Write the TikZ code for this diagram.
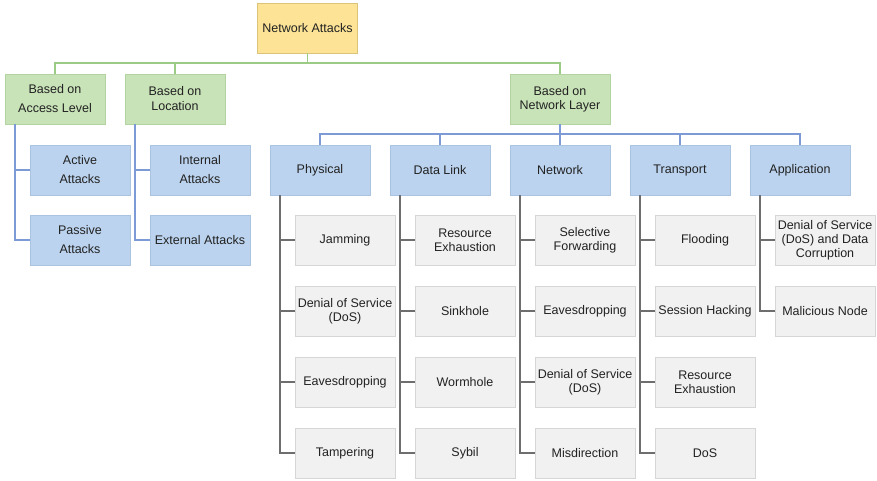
\documentclass[tikz,border=0pt]{standalone}
\usepackage{fontspec}
\setmainfont{Liberation Sans}
\definecolor{rootfill}{HTML}{FCE396}
\definecolor{rootdraw}{HTML}{DCC37A}
\definecolor{grpfill}{HTML}{C9E3B8}
\definecolor{grpdraw}{HTML}{B3D3A0}
\definecolor{grpline}{HTML}{9CCB86}
\definecolor{catfill}{HTML}{BBD3EE}
\definecolor{catdraw}{HTML}{A9C3E0}
\definecolor{catline}{HTML}{7B9AD6}
\definecolor{leaffill}{HTML}{F1F1F1}
\definecolor{leafdraw}{HTML}{D6D6D6}
\definecolor{leafline}{HTML}{6E6E6E}
\definecolor{txt}{HTML}{222222}
\tikzset{
  box/.style={minimum width=100pt, minimum height=50pt, inner sep=0pt,
    outer sep=0pt, line width=0.8pt, align=center, text=txt,
    font=\fontsize{12.5}{14}\selectfont},
  rootbox/.style={box, fill=rootfill, draw=rootdraw},
  grpbox/.style={box, fill=grpfill, draw=grpdraw},
  catbox/.style={box, fill=catfill, draw=catdraw},
  leafbox/.style={box, fill=leaffill, draw=leafdraw},
  wide/.style={font=\fontsize{12.5}{19}\selectfont},
  mid/.style={font=\fontsize{12.5}{15}\selectfont},
  gline/.style={draw=grpline, line width=1.3pt},
  bline/.style={draw=catline, line width=1.3pt},
  kline/.style={draw=leafline, line width=1.6pt},
}
\begin{document}
\begin{tikzpicture}[x=1pt, y=-1pt]
\useasboundingbox (0,0) rectangle (877,480);

% root
\node[rootbox] (root) at (307.5,28) {Network Attacks};

% grouping criteria
\node[grpbox, wide] (acc) at (55,99) {Based on\\Access Level};
\node[grpbox, mid] (loc) at (175,99) {Based on\\Location};
\node[grpbox] (nl) at (560,99) {Based on\\Network Layer};

% access level / location categories
\node[catbox, wide] (act) at (80,170) {Active\\Attacks};
\node[catbox, wide] (pas) at (80,240) {Passive\\Attacks};
\node[catbox, wide] (int) at (200,170) {Internal\\Attacks};
\node[catbox] (ext) at (200,240) {External Attacks};

% network layers
\node[catbox] (phy) at (320,170) {Physical};
\node[catbox] (dl)  at (440,170) {Data Link};
\node[catbox] (net) at (560,170) {Network};
\node[catbox] (tra) at (680,170) {Transport};
\node[catbox] (app) at (800,170) {Application};

% physical layer attacks
\node[leafbox] (p1) at (345,240) {Jamming};
\node[leafbox] (p2) at (345,311) {Denial of Service\\(DoS)};
\node[leafbox] (p3) at (345,382) {Eavesdropping};
\node[leafbox] (p4) at (345,453) {Tampering};

% data link layer attacks
\node[leafbox] (d1) at (465,240) {Resource\\Exhaustion};
\node[leafbox] (d2) at (465,311) {Sinkhole};
\node[leafbox] (d3) at (465,382) {Wormhole};
\node[leafbox] (d4) at (465,453) {Sybil};

% network layer attacks
\node[leafbox] (n1) at (585,240) {Selective\\Forwarding};
\node[leafbox] (n2) at (585,311) {Eavesdropping};
\node[leafbox] (n3) at (585,382) {Denial of Service\\(DoS)};
\node[leafbox] (n4) at (585,453) {Misdirection};

% transport layer attacks
\node[leafbox] (t1) at (705,240) {Flooding};
\node[leafbox] (t2) at (705,311) {Session Hacking};
\node[leafbox] (t3) at (705,382) {Resource\\Exhaustion};
\node[leafbox] (t4) at (705,453) {DoS};

% application layer attacks
\node[leafbox] (a1) at (825,240) {Denial of Service\\(DoS) and Data\\Corruption};
\node[leafbox] (a2) at (825,311) {Malicious Node};

% root to criteria
\foreach \c in {acc,loc,nl}
  \draw[gline] (root.south) -- ++(0,10) -| (\c.north);

% access level and location branches
\draw[bline] ([xshift=-40pt]acc.south) |- (pas.west);
\draw[bline] ([xshift=-40pt]acc.south |- act.west) -- (act.west);
\draw[bline] ([xshift=-40pt]loc.south) |- (ext.west);
\draw[bline] ([xshift=-40pt]loc.south |- int.west) -- (int.west);

% network layer to layers
\foreach \c in {phy,dl,net,tra,app}
  \draw[bline] (nl.south) -- ++(0,10) -| (\c.north);

% layers to their attacks
\foreach \l/\last/\rest in {phy/p4/{p1,p2,p3}, dl/d4/{d1,d2,d3}, net/n4/{n1,n2,n3}, tra/t4/{t1,t2,t3}, app/a2/{a1}} {
  \draw[kline] ([xshift=-40pt]\l.south) |- (\last.west);
  \foreach \k in \rest
    \draw[kline] ([xshift=-40pt]\l.south |- \k.west) -- (\k.west);
}
\end{tikzpicture}
\end{document}
